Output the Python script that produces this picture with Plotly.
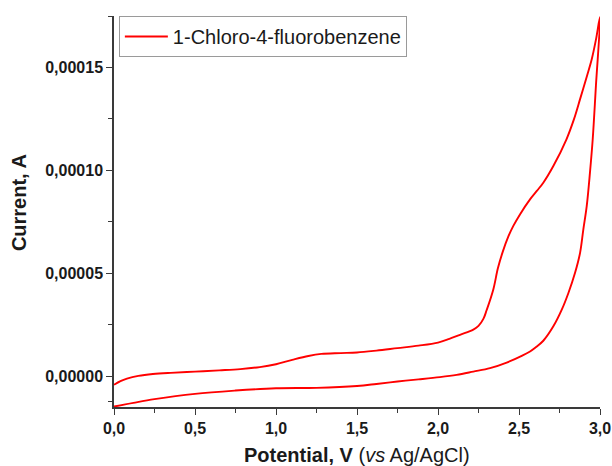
import plotly.graph_objects as go

# Forward scan (0 -> 3.0 V), current in A
fwd_potential = [0.0, 0.04, 0.08, 0.15, 0.24, 0.35, 0.5, 0.65, 0.78, 0.9, 1.0, 1.1, 1.2, 1.28,
                 1.4, 1.5, 1.62, 1.75, 1.88, 2.0, 2.07, 2.136, 2.218, 2.25, 2.28, 2.30, 2.341,
                 2.37, 2.40, 2.435, 2.465, 2.506, 2.568, 2.61, 2.65, 2.712, 2.793, 2.84, 2.877,
                 2.92, 2.949, 2.975, 3.0]
fwd_current = [-4.2e-6, -2.4e-6, -1.2e-6, 0.1e-6, 1.0e-6, 1.6e-6, 2.2e-6, 2.8e-6, 3.4e-6, 4.4e-6,
               5.8e-6, 7.9e-6, 9.8e-6, 10.8e-6, 11.2e-6, 11.5e-6, 12.4e-6, 13.6e-6, 14.8e-6,
               16.3e-6, 18.1e-6, 20.1e-6, 22.6e-6, 24.4e-6, 27.8e-6, 32.0e-6, 42.0e-6, 52.5e-6,
               60.5e-6, 68.0e-6, 73.0e-6, 78.6e-6, 85.9e-6, 90.0e-6, 94.0e-6, 102.1e-6,
               115.1e-6, 125.0e-6, 134.6e-6, 146.0e-6, 154.0e-6, 163.5e-6, 174.5e-6]

# Reverse scan (3.0 -> 0 V)
rev_potential = [2.975, 2.955, 2.938, 2.918, 2.897, 2.877, 2.846, 2.805, 2.764, 2.712, 2.65,
                 2.60, 2.568, 2.52, 2.424, 2.321, 2.218, 2.115, 2.012, 1.88, 1.75, 1.62, 1.5,
                 1.25, 1.0, 0.75, 0.5, 0.25, 0.12, 0.0]
rev_current = [141.3e-6, 115.1e-6, 98.9e-6, 82.6e-6, 71.2e-6, 59.9e-6, 50.2e-6, 40.4e-6,
               32.3e-6, 24.2e-6, 17.2e-6, 13.8e-6, 12.0e-6, 10.0e-6, 6.6e-6, 3.9e-6, 2.2e-6,
               0.6e-6, -0.5e-6, -1.6e-6, -2.6e-6, -3.8e-6, -4.8e-6, -5.7e-6, -5.9e-6, -7.0e-6,
               -8.6e-6, -11.2e-6, -13.0e-6, -14.8e-6]

potential = fwd_potential + rev_potential
current = fwd_current + rev_current

x_ticks = [0.0, 0.5, 1.0, 1.5, 2.0, 2.5, 3.0]
y_ticks = [0.0, 0.00005, 0.00010, 0.00015]

FONT = "Liberation Sans, Arial, sans-serif"

fig = go.Figure()
fig.add_trace(go.Scatter(
    x=potential, y=current, mode="lines",
    name="1-Chloro-4-fluorobenzene",
    line=dict(color="#ff0000", width=1.9, shape="spline", smoothing=1.0),
))

axis_common = dict(
    showline=True, linecolor="#3a3a3a", linewidth=1.5,
    ticks="outside", ticklen=6, tickwidth=1.3, tickcolor="#3a3a3a",
    showgrid=False, zeroline=False, mirror=False,
    tickfont=dict(family=FONT, size=16, color="#1a1a1a", weight="bold"),
    automargin=False,
)

fig.update_xaxes(
    range=[0, 3.0], tickvals=x_ticks, tickformat=".1f",
    minor=dict(ticks="outside", ticklen=4, tickwidth=1.2, tickcolor="#3a3a3a", dtick=0.25),
    **axis_common,
)
fig.update_yaxes(
    range=[-0.000015, 0.000175], tickvals=y_ticks, tickformat=".5f",
    minor=dict(ticks="outside", ticklen=4, tickwidth=1.2, tickcolor="#3a3a3a",
               tickvals=[-0.0000125, 0.000025, 0.000075, 0.000125, 0.000175]),
    **axis_common,
)

fig.add_annotation(
    text="<b>Potential, V</b> (<i>vs</i> Ag/AgCl)", xref="paper", yref="paper",
    x=0.5, y=-0.123, xanchor="center", yanchor="middle", showarrow=False,
    font=dict(family=FONT, size=20, color="#1a1a1a"),
)
fig.add_annotation(
    text="<b>Current, A</b>", xref="paper", yref="paper",
    x=-0.1955, y=0.524, xanchor="center", yanchor="middle", showarrow=False,
    textangle=-90, font=dict(family=FONT, size=20, color="#1a1a1a"),
)

fig.update_layout(
    width=612, height=466,
    margin=dict(l=114, r=12, t=16, b=59),
    plot_bgcolor="white", paper_bgcolor="white",
    separators=", ",
    showlegend=True,
    legend=dict(
        x=0.01, y=1.0, xanchor="left", yanchor="top",
        bgcolor="white", bordercolor="#9a9a9a", borderwidth=1,
        font=dict(family=FONT, size=20, color="#1a1a1a"),
        itemwidth=43, tracegroupgap=0,
    ),
)

fig.write_html("out.html")
